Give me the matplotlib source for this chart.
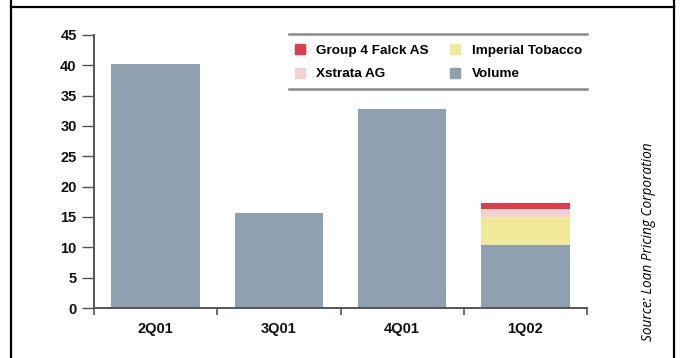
import numpy as np
import matplotlib.pyplot as plt
from matplotlib.lines import Line2D

# data (US$bn)
quarters = ["2Q01", "3Q01", "4Q01", "1Q02"]
volume = [40.2, 15.6, 32.8, 10.4]
imperial_tobacco = [0, 0, 0, 4.6]
xstrata = [0, 0, 0, 1.3]
group4_falck = [0, 0, 0, 1.0]

col_volume = "#8fa1b0"
col_imperial = "#f2e89a"
col_xstrata = "#f0d2d0"
col_group4 = "#de3f4a"
axis_col = "#555555"

label_font = ["Liberation Sans", "DejaVu Sans"]

fig = plt.figure(figsize=(6.8, 3.58), dpi=100)
ax = fig.add_axes([94 / 680, 1 - 308 / 358, 493 / 680, 273 / 358])

x = np.arange(len(quarters))
w = 0.72
vol = np.array(volume)
imp = np.array(imperial_tobacco)
xst = np.array(xstrata)
g4 = np.array(group4_falck)

ax.bar(x, vol, w, color=col_volume, label="Volume")
ax.bar(x, imp, w, bottom=vol, color=col_imperial, label="Imperial Tobacco")
ax.bar(x, xst, w, bottom=vol + imp, color=col_xstrata, label="Xstrata AG")
ax.bar(x, g4, w, bottom=vol + imp + xst, color=col_group4, label="Group 4 Falck AS")

ax.set_xlim(-0.5, len(quarters) - 0.5)
ax.set_ylim(0, 45)
ax.set_yticks(range(0, 46, 5))
ax.set_xticks(x)
ax.set_xticklabels(quarters)
ax.set_xticks(np.arange(-0.5, len(quarters)), minor=True)

for s in ["top", "right"]:
    ax.spines[s].set_visible(False)
for s in ["left", "bottom"]:
    ax.spines[s].set_color(axis_col)
    ax.spines[s].set_linewidth(1.4)
ax.spines["left"].set_bounds(0, 45)

ax.tick_params(axis="y", length=8.5, width=1.0, color=axis_col, pad=4)
ax.tick_params(axis="x", which="major", length=0, pad=10)
ax.tick_params(axis="x", which="minor", length=5, width=1.2, color=axis_col, direction="out")
for lab in ax.get_xticklabels() + ax.get_yticklabels():
    lab.set_family(label_font)
    lab.set_fontweight("bold")
    lab.set_fontsize(10.5)
    lab.set_color("#111111")

# legend with rules above and below
handles = [
    Line2D([], [], marker="s", ls="", ms=7, color=col_group4),
    Line2D([], [], marker="s", ls="", ms=7, color=col_xstrata),
    Line2D([], [], marker="s", ls="", ms=7, color=col_imperial),
    Line2D([], [], marker="s", ls="", ms=7, color=col_volume),
]
labels = ["Group 4 Falck AS", "Xstrata AG", "Imperial Tobacco", "Volume"]
leg = ax.legend(handles, labels, ncol=2, frameon=False, loc="center left",
                bbox_to_anchor=(0.38, 0.9), handlelength=0.9, handletextpad=0.8,
                columnspacing=1.5, labelspacing=0.85,
                prop={"family": label_font, "weight": "bold", "size": 9.7})
x0 = (289 - 94) / 493
for yy in [(308 - 34) / 273, (308 - 89) / 273]:
    ax.plot([x0, 1.0], [yy, yy], color="#8a8a8a", lw=1.8, transform=ax.transAxes, clip_on=False)

fig.text(648 / 680, 1 - 242 / 358, "Source: Loan Pricing Corporation", rotation=90,
         ha="center", va="center", fontsize=9.8, style="italic", family="Open Sans")

# outer frame
for xx in [11 / 680, 674 / 680]:
    fig.add_artist(Line2D([xx, xx], [0, 1], color="black", lw=1.6, transform=fig.transFigure))
fig.add_artist(Line2D([11 / 680, 674 / 680], [1 - 7 / 358] * 2, color="black", lw=1.6,
                      transform=fig.transFigure))

fig.savefig("out.png", dpi=100)
